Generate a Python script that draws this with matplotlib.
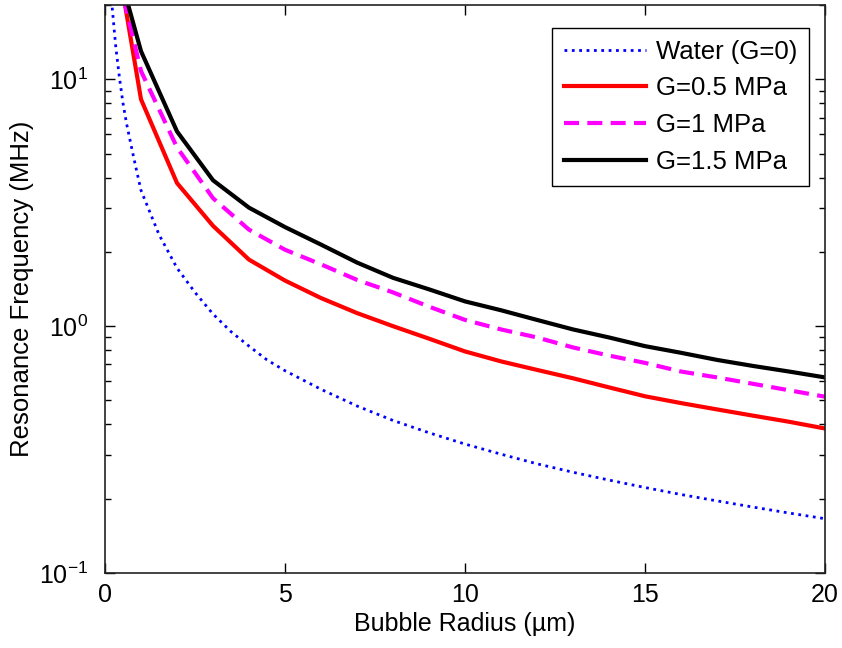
import matplotlib
matplotlib.use("Agg")
import matplotlib.pyplot as plt
from matplotlib.ticker import LogLocator, LogFormatterMathtext, NullLocator

plt.rcParams['font.family'] = ['Liberation Sans', 'DejaVu Sans']
plt.rcParams['mathtext.fontset'] = 'custom'
plt.rcParams['mathtext.rm'] = 'Liberation Sans'

# bubble radius (um) and resonance frequency (MHz)
radius_water = [0.2, 0.3, 0.4, 0.5, 0.6, 0.8, 1.0, 1.5, 2.0, 2.5, 3.0, 3.5, 4.0, 4.5, 5.0,
                6, 7, 8, 9, 10, 11, 12, 13, 14, 15, 16, 17, 18, 19, 20]
freq_water = [19.5, 13.5, 10.2, 8.0, 6.6, 4.8, 3.55, 2.35, 1.72, 1.37, 1.12, 0.95, 0.83, 0.73, 0.66,
              0.555, 0.475, 0.415, 0.37, 0.333, 0.303, 0.277, 0.256, 0.238, 0.222, 0.208,
              0.196, 0.185, 0.175, 0.166]

radius_shell = [0.5, 1, 2, 3, 4, 5, 6, 7, 8, 9, 10, 11, 12, 13, 14, 15, 16, 17, 18, 19, 20]
freq_g05 = [22.4, 8.3, 3.8, 2.55, 1.86, 1.53, 1.30, 1.13, 1.0, 0.89, 0.79, 0.72, 0.665, 0.615,
            0.565, 0.52, 0.488, 0.46, 0.434, 0.41, 0.385]
freq_g1 = [21.8, 10.8, 5.3, 3.3, 2.46, 2.04, 1.78, 1.54, 1.37, 1.2, 1.06, 0.97, 0.90, 0.82,
           0.76, 0.71, 0.655, 0.62, 0.584, 0.55, 0.518]
freq_g15 = [23.8, 13.0, 6.15, 3.9, 3.02, 2.52, 2.14, 1.81, 1.57, 1.41, 1.26, 1.16, 1.06, 0.97,
            0.90, 0.83, 0.78, 0.73, 0.69, 0.655, 0.62]

labels = ['Water (G=0)', 'G=0.5 MPa', 'G=1 MPa', 'G=1.5 MPa']

fig = plt.figure(figsize=(8.42, 6.48), dpi=100)
ax = fig.add_axes([0.1247, 0.1157, 0.8551, 0.8766])

ax.semilogy(radius_water, freq_water, color='#0000ff', linestyle=':', linewidth=2, label=labels[0])
ax.semilogy(radius_shell, freq_g05, color='#ff0000', linestyle='-', linewidth=3, label=labels[1])
ax.semilogy(radius_shell, freq_g1, color='#ff00ff', linestyle='--', linewidth=3, dashes=(3.6, 2), label=labels[2])
ax.semilogy(radius_shell, freq_g15, color='#000000', linestyle='-', linewidth=3, label=labels[3])

ax.set_xlim(0, 20)
ax.set_ylim(0.1, 20)
ax.set_xticks([0, 5, 10, 15, 20])
ax.xaxis.set_minor_locator(NullLocator())
ax.yaxis.set_major_locator(LogLocator(base=10))
ax.yaxis.set_major_formatter(LogFormatterMathtext())
ax.yaxis.set_minor_locator(LogLocator(base=10, subs=range(2, 10)))

ax.tick_params(which='both', direction='in', top=True, right=True, labelsize=18, width=1)
ax.tick_params(which='major', length=7)
ax.tick_params(which='minor', length=4)
ax.tick_params(axis='x', pad=7)
ax.tick_params(axis='y', pad=12)
for sp in ax.spines.values():
    sp.set_linewidth(1.2)
    sp.set_color('#222222')

ax.set_xlabel('Bubble Radius (\u00b5m)', fontsize=18, labelpad=4)
ax.set_ylabel('Resonance Frequency (MHz)', fontsize=18.5, labelpad=4)

leg = ax.legend(loc='upper right', bbox_to_anchor=(0.978, 0.9595), fontsize=18.5,
                handlelength=3.2, fancybox=False, framealpha=1, edgecolor='black',
                borderaxespad=0, labelspacing=0.5, borderpad=0.45, handletextpad=0.4)
leg.get_frame().set_linewidth(1.0)

fig.savefig('out.png', dpi=100)
